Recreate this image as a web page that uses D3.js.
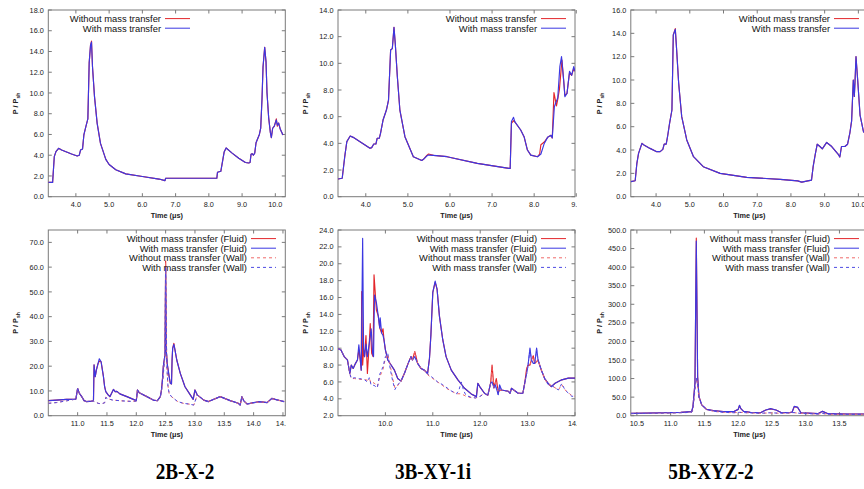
<!DOCTYPE html>
<html>
<head>
<meta charset="utf-8">
<script src="https://cdn.jsdelivr.net/npm/d3@7"></script>
<style>
body { margin: 0; background: #fff; }
svg { display: block; font-family: "Liberation Sans", Arial, sans-serif; }
</style>
</head>
<body>
<svg id="fig" width="864" height="489"></svg>
<script>
// ---- tick values ----
var ticksTopA = [4, 5, 6, 7, 8, 9, 10]
var ticksTopB = [4, 5, 6, 7, 8, 9]
var ticksBotA = [11, 11.5, 12, 12.5, 13, 13.5, 14, 14.5]
var ticksBotB = [10, 11, 12, 13, 14]
var ticksBotC = [10.5, 11, 11.5, 12, 12.5, 13, 13.5]
var yTicks18 = [0, 2, 4, 6, 8, 10, 12, 14, 16, 18]
var yTicks14 = [0, 2, 4, 6, 8, 10, 12, 14]
var yTicks16 = [0, 2, 4, 6, 8, 10, 12, 14, 16]
var yTicks70 = [0, 10, 20, 30, 40, 50, 60, 70]
var yTicks24 = [2, 4, 6, 8, 10, 12, 14, 16, 18, 20, 22, 24]
var yTicks500 = [0, 50, 100, 150, 200, 250, 300, 350, 400, 450, 500]

var captions = ['2B-X-2', '3B-XY-1i', '5B-XYZ-2']
var legendTop = ['Without mass transfer', 'With mass transfer']
var legendBot = ['Without mass transfer (Fluid)', 'With mass transfer (Fluid)', 'Without mass transfer (Wall)', 'With mass transfer (Wall)']

// ---- 2B-X-2, top (time us, P/Psh) ----
var p1Without = [[3.17,1.38],[3.30,1.38],[3.35,3.86],[3.40,4.34],[3.48,4.66],[3.57,4.50],[3.72,4.31],[3.87,4.12],[4.04,3.92],[4.10,3.99],[4.14,4.50],[4.20,4.60],[4.24,5.95],[4.30,6.75],[4.36,7.50],[4.40,12.9],[4.44,14.6],[4.47,15.0],[4.50,12.5],[4.56,9.65],[4.64,7.07],[4.74,5.14],[4.90,3.60],[5.0,3.1],[5.2,2.6],[5.5,2.2],[6.0,1.95],[6.5,1.7],[6.68,1.55],[6.70,1.78],[8.24,1.78],[8.26,2.35],[8.36,2.45],[8.46,4.3],[8.52,4.7],[8.7,4.2],[8.9,3.7],[9.1,3.3],[9.2,3.25],[9.24,3.3],[9.27,4.1],[9.30,4.15],[9.34,4.0],[9.38,4.2],[9.42,5.2],[9.52,6.0],[9.56,6.6],[9.60,9.5],[9.63,12.5],[9.68,14.4],[9.72,13.0],[9.75,10.0],[9.80,7.6],[9.85,6.2],[9.88,5.7],[9.92,6.6],[9.97,6.8],[10.03,7.5],[10.06,6.8],[10.10,7.1],[10.15,6.5],[10.23,5.95]]
var p1With = [[3.17,1.38],[3.30,1.38],[3.35,3.86],[3.40,4.34],[3.48,4.66],[3.57,4.50],[3.72,4.31],[3.87,4.12],[4.04,3.92],[4.10,3.99],[4.14,4.50],[4.20,4.60],[4.24,5.95],[4.30,6.75],[4.36,7.50],[4.40,12.9],[4.44,14.6],[4.47,14.9],[4.50,12.5],[4.56,9.65],[4.64,7.07],[4.74,5.14],[4.90,3.60],[5.0,3.1],[5.2,2.6],[5.5,2.2],[6.0,1.95],[6.5,1.7],[6.68,1.55],[6.70,1.78],[8.24,1.78],[8.26,2.35],[8.36,2.45],[8.46,4.3],[8.52,4.7],[8.7,4.2],[8.9,3.7],[9.1,3.3],[9.2,3.25],[9.24,3.3],[9.27,4.1],[9.30,4.15],[9.34,4.0],[9.38,4.2],[9.42,5.2],[9.52,6.0],[9.56,6.6],[9.60,9.5],[9.63,12.5],[9.68,14.4],[9.72,13.0],[9.75,10.0],[9.80,7.6],[9.85,6.2],[9.88,5.7],[9.92,6.6],[9.97,6.8],[10.03,7.4],[10.06,6.9],[10.10,7.1],[10.15,6.5],[10.23,5.95]]

// ---- 3B-XY-1i, top ----
var p2Without = [[3.34,1.33],[3.44,1.38],[3.50,3.0],[3.55,4.13],[3.63,4.55],[3.70,4.45],[3.90,4.05],[4.10,3.63],[4.14,3.68],[4.19,3.95],[4.24,3.95],[4.27,4.38],[4.32,4.38],[4.35,4.75],[4.41,5.75],[4.49,6.5],[4.54,7.25],[4.59,11.0],[4.63,11.1],[4.67,12.7],[4.70,11.5],[4.75,9.0],[4.81,6.5],[4.93,4.5],[5.13,3.0],[5.33,2.72],[5.37,2.8],[5.45,3.1],[5.49,3.2],[5.61,3.1],[5.93,3.0],[6.65,2.5],[7.40,2.12],[7.43,2.12],[7.46,5.5],[7.51,5.7],[7.54,5.6],[7.68,5.0],[7.76,4.5],[7.84,3.5],[7.92,3.12],[8.08,3.0],[8.13,3.2],[8.16,3.9],[8.24,4.1],[8.32,4.45],[8.40,4.6],[8.43,4.4],[8.47,7.8],[8.53,6.8],[8.56,7.3],[8.60,8.05],[8.66,10.25],[8.70,8.75],[8.73,7.6],[8.78,7.75],[8.84,9.3],[8.89,9.1],[8.94,9.6],[8.97,9.4]]
var p2With = [[3.34,1.33],[3.44,1.38],[3.50,3.0],[3.55,4.13],[3.63,4.55],[3.70,4.45],[3.90,4.05],[4.10,3.63],[4.14,3.68],[4.19,3.95],[4.24,3.95],[4.27,4.38],[4.32,4.38],[4.35,4.75],[4.41,5.75],[4.49,6.5],[4.54,7.25],[4.59,11.0],[4.63,11.1],[4.67,12.7],[4.70,11.5],[4.75,9.0],[4.81,6.5],[4.93,4.5],[5.13,3.0],[5.33,2.72],[5.37,2.8],[5.45,3.05],[5.49,3.12],[5.61,3.1],[5.93,3.0],[6.65,2.5],[7.40,2.12],[7.43,2.12],[7.46,5.63],[7.51,5.95],[7.54,5.63],[7.68,5.0],[7.76,4.5],[7.84,3.5],[7.92,3.12],[8.08,3.0],[8.16,3.2],[8.24,4.0],[8.32,4.45],[8.40,4.6],[8.43,4.4],[8.48,6.75],[8.52,7.1],[8.56,7.4],[8.61,9.75],[8.65,10.5],[8.70,8.75],[8.73,7.5],[8.78,7.75],[8.84,9.4],[8.89,9.1],[8.94,9.75],[8.97,9.4]]

// ---- 5B-XYZ-2, top ----
var p3Without = [[3.25,1.29],[3.38,1.37],[3.43,2.86],[3.48,3.71],[3.58,4.57],[3.64,4.43],[3.82,4.14],[4.02,3.86],[4.12,3.86],[4.20,4.06],[4.24,4.51],[4.30,4.51],[4.34,5.14],[4.40,6.29],[4.47,7.43],[4.51,13.86],[4.57,14.4],[4.61,12.57],[4.67,9.71],[4.76,6.86],[4.91,4.86],[5.11,3.43],[5.40,2.57],[5.90,2.0],[6.69,1.66],[7.68,1.49],[8.20,1.36],[8.32,1.25],[8.61,1.42],[8.66,2.6],[8.72,3.6],[8.78,4.5],[8.86,4.3],[8.93,4.1],[9.06,4.65],[9.21,4.3],[9.41,3.6],[9.45,3.4],[9.50,4.3],[9.60,4.3],[9.68,4.5],[9.75,5.5],[9.80,6.5],[9.85,10.0],[9.88,8.6],[9.90,9.8],[9.93,12.0],[9.98,10.0],[10.05,7.0],[10.15,5.6],[10.28,5.0]]
var p3With = [[3.25,1.29],[3.38,1.37],[3.43,2.86],[3.48,3.71],[3.58,4.57],[3.64,4.43],[3.82,4.14],[4.02,3.86],[4.12,3.86],[4.20,4.06],[4.24,4.51],[4.30,4.51],[4.34,5.14],[4.40,6.29],[4.47,7.43],[4.51,13.86],[4.57,14.34],[4.61,12.57],[4.67,9.71],[4.76,6.86],[4.91,4.86],[5.11,3.43],[5.40,2.57],[5.90,2.0],[6.69,1.66],[7.68,1.49],[8.20,1.36],[8.32,1.25],[8.61,1.42],[8.66,2.6],[8.72,3.6],[8.78,4.5],[8.86,4.3],[8.93,4.1],[9.06,4.65],[9.21,4.3],[9.41,3.6],[9.45,3.4],[9.50,4.3],[9.60,4.3],[9.68,4.5],[9.75,5.5],[9.80,6.5],[9.85,10.0],[9.88,8.6],[9.90,9.8],[9.93,12.0],[9.98,10.0],[10.05,7.0],[10.15,5.6],[10.28,5.0]]

// ---- 2B-X-2, bottom ----
var p4FluidWithout = [[10.50,6.06],[10.64,6.3],[10.81,6.6],[10.97,6.7],[11.00,11.0],[11.03,9.0],[11.07,7.7],[11.11,6.1],[11.15,5.7],[11.24,5.9],[11.27,6.1],[11.28,20.5],[11.30,15.8],[11.32,18.5],[11.35,21.2],[11.37,22.0],[11.40,21.8],[11.44,15.8],[11.46,11.7],[11.48,9.7],[11.52,8.4],[11.55,7.7],[11.61,10.6],[11.64,9.7],[11.67,9.8],[11.72,8.8],[11.84,7.7],[11.95,6.6],[12.00,6.1],[12.02,10.4],[12.05,9.3],[12.18,7.7],[12.29,6.3],[12.36,6.06],[12.41,7.7],[12.43,10.4],[12.45,15.8],[12.46,19.8],[12.48,23.2],[12.49,24.5],[12.50,62.5],[12.51,26.5],[12.53,20.5],[12.56,15.8],[12.58,13.1],[12.60,12.8],[12.61,22.5],[12.62,27.2],[12.64,29.2],[12.66,26.5],[12.69,22.5],[12.75,17.1],[12.83,11.7],[12.92,8.4],[12.97,6.6],[13.00,10.4],[13.04,8.4],[13.15,6.3],[13.23,5.7],[13.43,7.7],[13.60,6.1],[13.74,5.0],[13.77,4.3],[13.80,7.7],[13.83,6.1],[13.89,4.7],[14.00,5.3],[14.11,5.7],[14.23,5.3],[14.31,7.0],[14.37,6.6],[14.46,6.06],[14.52,5.7]]
var p4FluidWith = [[10.50,6.06],[10.64,6.3],[10.81,6.6],[10.97,6.7],[11.00,11.0],[11.03,9.0],[11.07,7.7],[11.11,6.1],[11.15,5.7],[11.24,5.9],[11.27,6.1],[11.28,20.5],[11.30,15.8],[11.32,18.5],[11.35,21.2],[11.37,23.0],[11.40,21.8],[11.44,15.8],[11.46,11.7],[11.48,9.7],[11.52,8.4],[11.55,7.7],[11.61,10.6],[11.64,9.7],[11.67,9.8],[11.72,8.8],[11.84,7.7],[11.95,6.6],[12.00,6.1],[12.02,10.4],[12.05,9.3],[12.18,7.7],[12.29,6.3],[12.36,6.06],[12.41,7.7],[12.43,10.4],[12.45,15.8],[12.46,19.8],[12.48,23.2],[12.49,24.5],[12.50,60.0],[12.51,26.5],[12.53,20.5],[12.56,15.8],[12.58,13.1],[12.60,12.8],[12.61,22.5],[12.62,27.2],[12.64,28.8],[12.66,26.5],[12.69,22.5],[12.75,17.1],[12.83,11.7],[12.92,8.4],[12.97,6.6],[13.00,10.4],[13.04,8.4],[13.15,6.3],[13.23,5.7],[13.43,7.7],[13.60,6.1],[13.74,5.0],[13.77,4.3],[13.80,7.7],[13.83,6.1],[13.89,4.7],[14.00,5.3],[14.11,5.7],[14.23,5.3],[14.31,7.0],[14.37,6.6],[14.46,6.06],[14.52,5.7]]
var p4WallWithout = [[10.50,5.0],[10.64,5.3],[10.81,6.0],[10.97,6.7],[11.00,11.0],[11.03,9.0],[11.07,7.7],[11.11,6.1],[11.15,5.7],[11.24,5.9],[11.27,5.9],[11.35,5.0],[11.40,4.8],[11.46,5.2],[11.48,7.5],[11.52,6.8],[11.60,6.3],[11.75,6.0],[11.90,5.8],[12.00,5.9],[12.02,10.4],[12.05,9.3],[12.18,7.7],[12.29,6.3],[12.36,6.06],[12.41,7.7],[12.43,10.4],[12.45,14.0],[12.48,22.0],[12.49,25.0],[12.50,62.0],[12.52,20.0],[12.54,12.0],[12.56,9.0],[12.60,7.7],[12.70,5.8],[12.80,5.0],[12.90,4.7],[12.98,4.3],[13.04,8.4],[13.15,6.3],[13.23,5.7],[13.43,7.7],[13.60,6.1],[13.74,5.0],[13.77,4.3],[13.80,7.4],[13.83,6.0],[13.89,4.7],[14.00,5.2],[14.11,5.6],[14.23,5.3],[14.31,6.9],[14.37,6.5],[14.46,6.0],[14.52,5.7]]
var p4WallWith = [[10.50,5.0],[10.64,5.3],[10.81,6.0],[10.97,6.7],[11.00,11.0],[11.03,9.0],[11.07,7.7],[11.11,6.1],[11.15,5.7],[11.24,5.9],[11.27,5.9],[11.35,5.0],[11.40,4.8],[11.46,5.2],[11.48,7.3],[11.52,6.8],[11.60,6.3],[11.75,6.0],[11.90,5.8],[12.00,5.9],[12.02,10.4],[12.05,9.3],[12.18,7.7],[12.29,6.3],[12.36,6.06],[12.41,7.7],[12.43,10.4],[12.45,14.0],[12.48,22.0],[12.49,25.0],[12.50,60.0],[12.52,20.0],[12.54,12.0],[12.56,9.0],[12.60,7.7],[12.70,5.8],[12.80,5.0],[12.90,4.7],[12.98,4.3],[13.04,8.4],[13.15,6.3],[13.23,5.7],[13.43,7.7],[13.60,6.1],[13.74,5.0],[13.77,4.3],[13.80,7.4],[13.83,6.0],[13.89,4.7],[14.00,5.2],[14.11,5.6],[14.23,5.3],[14.31,6.9],[14.37,6.5],[14.46,6.0],[14.52,5.7]]

// ---- 3B-XY-1i, bottom ----
var p5FluidWithout = [[9.00,9.94],[9.06,9.8],[9.13,9.0],[9.20,8.6],[9.25,7.0],[9.28,8.0],[9.32,7.6],[9.37,8.2],[9.41,8.6],[9.44,9.8],[9.47,8.6],[9.49,7.4],[9.50,16.7],[9.52,8.0],[9.54,9.8],[9.56,9.0],[9.59,11.5],[9.62,7.0],[9.66,10.6],[9.68,12.9],[9.71,9.4],[9.74,9.0],[9.76,18.7],[9.81,14.5],[9.85,13.8],[9.88,12.4],[9.92,11.8],[9.95,12.3],[9.97,11.0],[10.00,9.8],[10.05,8.6],[10.12,8.0],[10.19,7.4],[10.26,6.4],[10.33,6.1],[10.40,7.0],[10.48,8.2],[10.54,9.0],[10.57,8.6],[10.62,9.6],[10.68,8.2],[10.75,7.6],[10.82,7.4],[10.89,7.0],[10.93,8.8],[10.96,11.6],[11.00,16.6],[11.05,17.8],[11.09,17.0],[11.14,13.8],[11.21,11.0],[11.28,9.0],[11.39,7.4],[11.53,6.25],[11.67,5.25],[11.81,4.58],[11.92,4.26],[11.95,5.85],[11.99,5.45],[12.09,4.66],[12.16,4.42],[12.22,5.85],[12.25,8.0],[12.29,5.3],[12.34,6.4],[12.38,4.8],[12.41,5.0],[12.45,5.05],[12.59,4.9],[12.63,4.66],[12.66,5.25],[12.80,4.66],[12.90,4.66],[12.94,5.85],[12.98,7.6],[13.01,8.0],[13.05,8.0],[13.08,8.6],[13.12,9.1],[13.15,8.2],[13.19,8.4],[13.22,8.6],[13.29,7.4],[13.36,6.4],[13.43,5.85],[13.50,5.45],[13.58,5.85],[13.72,6.25],[13.86,6.45],[14.00,6.45]]
var p5FluidWith = [[9.00,9.94],[9.06,9.8],[9.13,9.0],[9.20,8.6],[9.25,7.0],[9.28,8.0],[9.32,7.6],[9.37,8.2],[9.41,8.6],[9.44,10.4],[9.47,8.6],[9.49,7.4],[9.52,23.0],[9.54,9.8],[9.56,9.0],[9.59,10.5],[9.62,9.0],[9.66,10.6],[9.70,12.3],[9.73,9.4],[9.75,9.0],[9.77,16.3],[9.81,15.4],[9.85,13.8],[9.88,12.4],[9.89,13.6],[9.92,11.8],[9.95,11.5],[9.97,11.0],[10.00,9.8],[10.05,8.6],[10.12,8.0],[10.19,7.4],[10.26,6.4],[10.33,6.1],[10.40,7.0],[10.48,8.2],[10.54,9.0],[10.57,8.6],[10.62,9.0],[10.68,8.2],[10.75,7.6],[10.82,7.4],[10.89,7.0],[10.93,8.8],[10.96,11.6],[11.00,16.6],[11.05,17.95],[11.09,17.0],[11.14,13.8],[11.21,11.0],[11.28,9.0],[11.39,7.4],[11.53,6.25],[11.67,5.25],[11.81,4.58],[11.92,4.26],[11.95,5.85],[11.99,5.45],[12.09,4.66],[12.16,4.42],[12.22,5.85],[12.25,6.0],[12.29,5.3],[12.32,5.65],[12.38,4.5],[12.41,5.65],[12.45,5.05],[12.59,4.9],[12.63,4.66],[12.66,5.25],[12.80,4.66],[12.90,4.66],[12.94,5.85],[12.98,7.0],[13.01,8.0],[13.05,10.0],[13.08,8.6],[13.12,8.2],[13.15,8.2],[13.19,10.0],[13.22,8.6],[13.29,7.4],[13.36,6.4],[13.43,5.85],[13.50,5.45],[13.58,5.85],[13.72,6.25],[13.86,6.45],[14.00,6.45]]
var p5WallWithout = [[9.00,9.94],[9.06,9.8],[9.13,9.0],[9.20,8.6],[9.25,7.0],[9.28,6.4],[9.35,6.4],[9.45,6.3],[9.55,6.3],[9.62,6.2],[9.66,6.4],[9.70,5.85],[9.76,5.9],[9.83,5.45],[9.88,6.6],[9.95,7.5],[10.00,8.8],[10.05,9.3],[10.10,8.0],[10.15,6.5],[10.20,5.3],[10.25,5.5],[10.33,6.1],[10.40,7.0],[10.48,8.2],[10.54,9.0],[10.57,8.6],[10.62,9.6],[10.68,8.2],[10.75,7.6],[10.82,7.4],[10.90,6.8],[11.00,6.4],[11.10,6.0],[11.20,5.6],[11.30,5.2],[11.40,4.9],[11.50,4.6],[11.60,4.6],[11.70,4.3],[11.80,4.15],[11.90,4.1],[12.00,4.3],[12.09,4.66],[12.16,4.42],[12.22,5.85],[12.25,7.6],[12.29,5.3],[12.34,6.2],[12.38,4.8],[12.41,5.0],[12.45,5.05],[12.59,4.9],[12.63,4.66],[12.66,5.25],[12.80,4.66],[12.90,4.66],[12.94,5.85],[12.98,7.4],[13.01,8.0],[13.05,8.0],[13.08,8.6],[13.12,9.0],[13.15,8.2],[13.19,8.4],[13.22,8.6],[13.29,7.4],[13.36,6.4],[13.43,5.7],[13.50,5.6],[13.65,5.05],[13.72,5.7],[13.79,5.05],[13.93,4.4],[14.00,4.3]]
var p5WallWith = [[9.00,9.94],[9.06,9.8],[9.13,9.0],[9.20,8.6],[9.25,7.0],[9.28,6.4],[9.35,6.5],[9.45,6.4],[9.55,6.3],[9.62,6.0],[9.66,6.5],[9.70,5.6],[9.76,5.6],[9.83,5.3],[9.88,6.9],[9.95,7.8],[10.00,9.0],[10.05,9.4],[10.10,7.6],[10.15,6.2],[10.20,5.1],[10.25,5.6],[10.33,6.1],[10.40,7.0],[10.48,8.2],[10.54,9.0],[10.57,8.6],[10.62,9.0],[10.68,8.2],[10.75,7.6],[10.82,7.4],[10.90,6.9],[11.00,6.5],[11.10,6.0],[11.20,5.7],[11.30,5.3],[11.40,4.9],[11.50,4.6],[11.55,5.0],[11.60,6.0],[11.65,5.0],[11.70,4.4],[11.80,4.2],[11.90,4.1],[12.00,4.3],[12.09,4.66],[12.16,4.42],[12.22,5.85],[12.25,6.0],[12.29,5.3],[12.32,5.65],[12.38,4.5],[12.41,5.5],[12.45,5.05],[12.59,4.9],[12.63,4.66],[12.66,5.25],[12.80,4.66],[12.90,4.66],[12.94,5.85],[12.98,7.0],[13.01,8.0],[13.05,9.8],[13.08,8.6],[13.12,8.2],[13.15,8.2],[13.19,9.8],[13.22,8.6],[13.29,7.4],[13.36,6.4],[13.43,5.7],[13.50,5.6],[13.65,5.05],[13.72,5.8],[13.79,5.05],[13.93,4.3],[14.00,4.3]]

// ---- 5B-XYZ-2, bottom ----
var p6FluidWithout = [[10.41,6.3],[10.90,8.0],[11.15,9.0],[11.31,10.8],[11.33,24],[11.36,87],[11.38,478],[11.40,105],[11.42,51],[11.46,29],[11.53,17],[11.63,13.5],[11.78,10.8],[11.93,10.8],[12.00,17],[12.02,27],[12.04,19],[12.08,11.7],[12.18,9.0],[12.33,8.0],[12.41,15.3],[12.48,18.5],[12.56,15.3],[12.63,9.0],[12.75,8.0],[12.80,10],[12.83,24],[12.88,22],[12.93,8],[13.03,7],[13.18,5.5],[13.25,11.7],[13.33,5.4],[13.62,4.5],[13.92,4.5]]
var p6FluidWith = [[10.41,6.3],[10.90,8.0],[11.15,9.0],[11.31,10.8],[11.33,24],[11.36,87],[11.38,470],[11.40,105],[11.42,51],[11.46,29],[11.53,17],[11.63,13.5],[11.78,10.8],[11.93,10.8],[12.00,17],[12.02,28],[12.04,19],[12.08,11.7],[12.18,9.0],[12.33,8.0],[12.41,15.3],[12.48,19],[12.56,15.3],[12.63,9.0],[12.75,8.0],[12.80,10],[12.83,25],[12.88,23],[12.93,8],[13.03,7],[13.18,5.5],[13.25,11.7],[13.33,5.4],[13.62,4.5],[13.92,4.5]]
var p6WallWithout = [[10.41,5.5],[10.90,7.0],[11.15,8.0],[11.31,9],[11.33,15],[11.36,70],[11.38,100],[11.40,80],[11.42,50],[11.46,30],[11.53,18],[11.63,12],[11.78,9],[11.93,8],[12.02,9],[12.18,7.5],[12.33,6.5],[12.48,7.5],[12.63,6.5],[12.83,8],[12.93,6],[13.18,4.5],[13.25,6],[13.33,4],[13.92,3.5]]
var p6WallWith = [[10.41,5.5],[10.90,7.0],[11.15,8.0],[11.31,9],[11.33,16],[11.36,72],[11.38,102],[11.40,82],[11.42,50],[11.46,30],[11.53,18],[11.63,12],[11.78,9],[11.93,8],[12.02,9],[12.18,7.5],[12.33,6.5],[12.48,8],[12.63,6.5],[12.83,8.5],[12.93,6],[13.18,4.5],[13.25,6],[13.33,4],[13.92,3.5]]

var RED = '#e3262b'
var BLUE = '#3b37e2'
var RED_W = '#ef6a6a'
var BLUE_W = '#4f4be4'

var columns = [
	{ 'clipX' : 0, 'clipW' : 286, 'left' : 48.3, 'yTitleX' : 18.3, 'captionX' : 185 },
	{ 'clipX' : 290, 'clipW' : 287, 'left' : 338, 'yTitleX' : 308.3, 'captionX' : 433 },
	{ 'clipX' : 580, 'clipW' : 284, 'left' : 630.8, 'yTitleX' : 601.7, 'captionX' : 711 }
]

var rows = [
	{ 'top' : 10, 'bottom' : 196.7, 'tickY' : 207, 'titleY' : 217.5 },
	{ 'top' : 230, 'bottom' : 415.7, 'tickY' : 426, 'titleY' : 436.5 }
]

var fluidSeries = function(a, b, c, d) {
	return [
		{ 'data' : a, 'color' : RED, 'dash' : null },
		{ 'data' : b, 'color' : BLUE, 'dash' : null },
		{ 'data' : c, 'color' : RED_W, 'dash' : '3,3' },
		{ 'data' : d, 'color' : BLUE_W, 'dash' : '3,3' }
	]
}

var panels = [
	{ 'col' : 0, 'row' : 0, 'x' : [3.17, 10.3], 'y' : [0, 18], 'xt' : ticksTopA, 'yt' : yTicks18, 'legend' : legendTop, 'legendEnd' : 190,
		'series' : [{ 'data' : p1Without, 'color' : RED }, { 'data' : p1With, 'color' : BLUE }] },
	{ 'col' : 1, 'row' : 0, 'x' : [3.34, 8.97], 'y' : [0, 14], 'xt' : ticksTopB, 'yt' : yTicks14, 'legend' : legendTop, 'legendEnd' : 566,
		'series' : [{ 'data' : p2Without, 'color' : RED }, { 'data' : p2With, 'color' : BLUE }] },
	{ 'col' : 2, 'row' : 0, 'x' : [3.25, 10.28], 'y' : [0, 16], 'xt' : ticksTopA, 'yt' : yTicks16, 'legend' : legendTop, 'legendEnd' : 859,
		'series' : [{ 'data' : p3Without, 'color' : RED }, { 'data' : p3With, 'color' : BLUE }] },
	{ 'col' : 0, 'row' : 1, 'x' : [10.5, 14.54], 'y' : [0, 75], 'xt' : ticksBotA, 'yt' : yTicks70, 'legend' : legendBot, 'legendEnd' : 276,
		'series' : fluidSeries(p4FluidWithout, p4FluidWith, p4WallWithout, p4WallWith) },
	{ 'col' : 1, 'row' : 1, 'x' : [9.0, 14.0], 'y' : [2, 24], 'xt' : ticksBotB, 'yt' : yTicks24, 'legend' : legendBot, 'legendEnd' : 566,
		'series' : fluidSeries(p5FluidWithout, p5FluidWith, p5WallWithout, p5WallWith) },
	{ 'col' : 2, 'row' : 1, 'x' : [10.41, 13.92], 'y' : [0, 500], 'xt' : ticksBotC, 'yt' : yTicks500, 'legend' : legendBot, 'legendEnd' : 859,
		'series' : fluidSeries(p6FluidWithout, p6FluidWith, p6WallWithout, p6WallWith) }
]

var plotW = 237
var fmt = d3.format('.1f')
var svg = d3.select('#fig')
var defs = svg.append('defs')

columns.forEach(function(c, i) {
	defs.append('clipPath').attr('id', 'col' + i)
		.append('rect').attr('x', c.clipX).attr('y', 0).attr('width', c.clipW).attr('height', 489)
})

panels.forEach(function(p, pi) {

	var col = columns[p.col]
	var row = rows[p.row]
	var left = col.left
	var right = left + plotW

	var xScale = d3.scaleLinear().domain(p.x).range([left, right])
	var yScale = d3.scaleLinear().domain(p.y).range([row.bottom, row.top])

	defs.append('clipPath').attr('id', 'plot' + pi)
		.append('rect').attr('x', left).attr('y', row.top).attr('width', plotW).attr('height', row.bottom - row.top)

	var g = svg.append('g').attr('clip-path', 'url(#col' + p.col + ')')

	// frame
	g.append('rect')
		.attr('x', left).attr('y', row.top)
		.attr('width', plotW).attr('height', row.bottom - row.top)
		.attr('fill', 'none').attr('stroke', '#7a7a7a').attr('stroke-width', 1)

	// x ticks (mirrored on top)
	p.xt.forEach(function(t) {
		var x = xScale(t)
		g.append('line').attr('x1', x).attr('x2', x).attr('y1', row.bottom).attr('y2', row.bottom - 3.5)
			.attr('stroke', '#7a7a7a')
		g.append('line').attr('x1', x).attr('x2', x).attr('y1', row.top).attr('y2', row.top + 3.5)
			.attr('stroke', '#7a7a7a')
		g.append('text').attr('x', x).attr('y', row.tickY)
			.attr('text-anchor', 'middle').attr('font-size', 7.3).attr('fill', '#222')
			.text(fmt(t))
	})

	// y ticks (mirrored on right)
	p.yt.forEach(function(v) {
		var y = yScale(v)
		g.append('line').attr('x1', left).attr('x2', left + 3.5).attr('y1', y).attr('y2', y)
			.attr('stroke', '#7a7a7a')
		g.append('line').attr('x1', right).attr('x2', right - 3.5).attr('y1', y).attr('y2', y)
			.attr('stroke', '#7a7a7a')
		g.append('text').attr('x', left - 4.5).attr('y', y + 2.6)
			.attr('text-anchor', 'end').attr('font-size', 7.3).attr('fill', '#222')
			.text(fmt(v))
	})

	// axis titles
	g.append('text').attr('x', left + plotW / 2).attr('y', row.titleY)
		.attr('text-anchor', 'middle').attr('font-size', 7.3).attr('font-weight', 'bold').attr('fill', '#222')
		.text('Time (\u03bcs)')

	var yt = g.append('text')
		.attr('transform', 'translate(' + col.yTitleX + ',' + ((row.top + row.bottom) / 2) + ') rotate(-90)')
		.attr('text-anchor', 'middle').attr('font-size', 7.3).attr('font-weight', 'bold').attr('fill', '#222')
	yt.append('tspan').text('P / P')
	yt.append('tspan').attr('font-size', 5.2).attr('dy', 1.8).text('sh')

	// traces
	var line = d3.line()
		.x(function(d) { return xScale(d[0]) })
		.y(function(d) { return yScale(d[1]) })

	var plot = g.append('g').attr('clip-path', 'url(#plot' + pi + ')')
	p.series.forEach(function(s) {
		plot.append('path')
			.attr('d', line(s.data))
			.attr('fill', 'none')
			.attr('stroke', s.color)
			.attr('stroke-width', s.dash ? 1 : 1.15)
			.attr('stroke-dasharray', s.dash || null)
			.attr('stroke-linejoin', 'round')
	})

	// legend
	var ly = row.top + 8.6
	p.legend.forEach(function(label, i) {
		var y = ly + i * 9.6
		var s = p.series[i]
		g.append('text').attr('x', p.legendEnd - 29).attr('y', y + 3.3)
			.attr('text-anchor', 'end').attr('font-size', 9.4).attr('fill', '#111')
			.text(label)
		g.append('line').attr('x1', p.legendEnd - 25).attr('x2', p.legendEnd).attr('y1', y).attr('y2', y)
			.attr('stroke', s.color).attr('stroke-width', 1)
			.attr('stroke-dasharray', s.dash || null)
	})
})

// captions (narrow bold serif)
columns.forEach(function(c, i) {
	svg.append('text')
		.attr('transform', 'translate(' + c.captionX + ',479) scale(0.8,1)')
		.attr('text-anchor', 'middle')
		.attr('font-family', '"Liberation Serif", "Times New Roman", serif')
		.attr('font-weight', 'bold').attr('font-size', 24)
		.attr('fill', '#000')
		.text(captions[i])
})
</script>
</body>
</html>
